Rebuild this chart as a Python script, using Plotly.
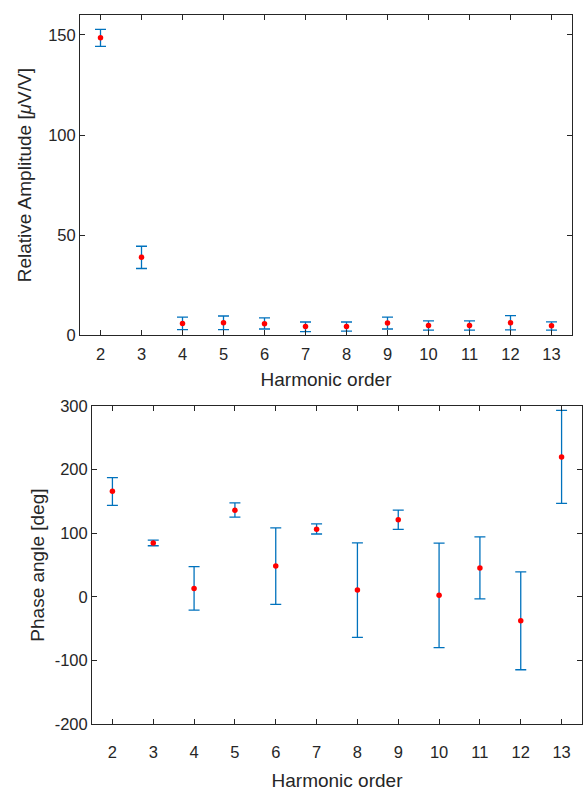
import plotly.graph_objects as go

harmonics = [2, 3, 4, 5, 6, 7, 8, 9, 10, 11, 12, 13]

amp_mean = [148.6, 39.0, 6.0, 6.3, 5.8, 4.4, 4.4, 6.2, 5.0, 5.0, 6.3, 4.8]
amp_upper = [152.8, 44.5, 9.1, 9.7, 8.8, 6.7, 6.7, 9.1, 7.3, 7.3, 9.9, 6.8]
amp_lower = [144.3, 33.4, 2.9, 2.9, 3.2, 1.9, 2.1, 3.2, 2.6, 2.6, 2.8, 2.6]

phase_mean = [165.9, 84.5, 13.2, 136.1, 48.5, 106.4, 10.7, 121.3, 2.5, 45.5, -37.5, 219.7]
phase_upper = [187.4, 89.1, 47.6, 147.5, 108.4, 114.6, 85.0, 136.1, 84.5, 94.2, 39.3, 292.8]
phase_lower = [143.8, 80.3, -20.6, 125.3, -11.8, 98.8, -63.6, 106.0, -79.4, -3.1, -114.3, 146.8]

amp_ticks = [0, 50, 100, 150]
phase_ticks = [-200, -100, 0, 100, 200, 300]

W, H = 587, 793
BLUE = "#0072BD"
AX = "#262626"
FONT = "Liberation Sans, Arial, sans-serif"

fig = go.Figure()


def add_err(mean, up, lo, xa, ya):
    fig.add_trace(go.Scatter(
        x=harmonics, y=mean, mode="markers",
        marker=dict(color="rgba(0,0,0,0)", size=1),
        error_y=dict(type="data", symmetric=False,
                     array=[u - m for u, m in zip(up, mean)],
                     arrayminus=[m - l for m, l in zip(mean, lo)],
                     color=BLUE, thickness=1.3, width=5.5),
        xaxis=xa, yaxis=ya, showlegend=False, hoverinfo="skip"))
    fig.add_trace(go.Scatter(
        x=harmonics, y=mean, mode="markers",
        marker=dict(color="#FF0000", size=5.5, line=dict(width=0)),
        xaxis=xa, yaxis=ya, showlegend=False))


add_err(amp_mean, amp_upper, amp_lower, "x", "y")
add_err(phase_mean, phase_upper, phase_lower, "x2", "y2")

common = dict(showline=True, linecolor=AX, linewidth=1, mirror="allticks",
              ticks="inside", ticklen=5, tickcolor=AX, showgrid=False,
              zeroline=False, tickfont=dict(size=16.5, color=AX, family=FONT),
              title_font=dict(size=19, color=AX, family=FONT))

fig.update_layout(
    width=W, height=H, margin=dict(l=0, r=0, t=0, b=0),
    paper_bgcolor="white", plot_bgcolor="white",
    font=dict(family=FONT, color=AX),
    xaxis=dict(domain=[80 / W, 572 / W], range=[1.5, 13.5], tickvals=harmonics,
               ticklabelstandoff=4,
               title=dict(text="Harmonic order", standoff=10), anchor="y", **common),
    yaxis=dict(domain=[1 - 334 / H, 1 - 6 / H], range=[0, 160], tickvals=amp_ticks,
               ticktext=[str(v) for v in amp_ticks],
               title=dict(text="Relative Amplitude [<i>μ</i>V/V]", standoff=11), anchor="x", **common),
    xaxis2=dict(domain=[92 / W, 582 / W], range=[1.5, 13.5], tickvals=harmonics,
                ticklabelstandoff=13,
                title=dict(text="Harmonic order", standoff=13), anchor="y2", **common),
    yaxis2=dict(domain=[1 - 732 / H, 1 - 406 / H], range=[-200, 300],
                tickvals=phase_ticks, ticktext=[str(v) for v in phase_ticks],
                title=dict(text="Phase angle [deg]", standoff=5), anchor="x2", **common),
)

fig.write_html("out.html")
